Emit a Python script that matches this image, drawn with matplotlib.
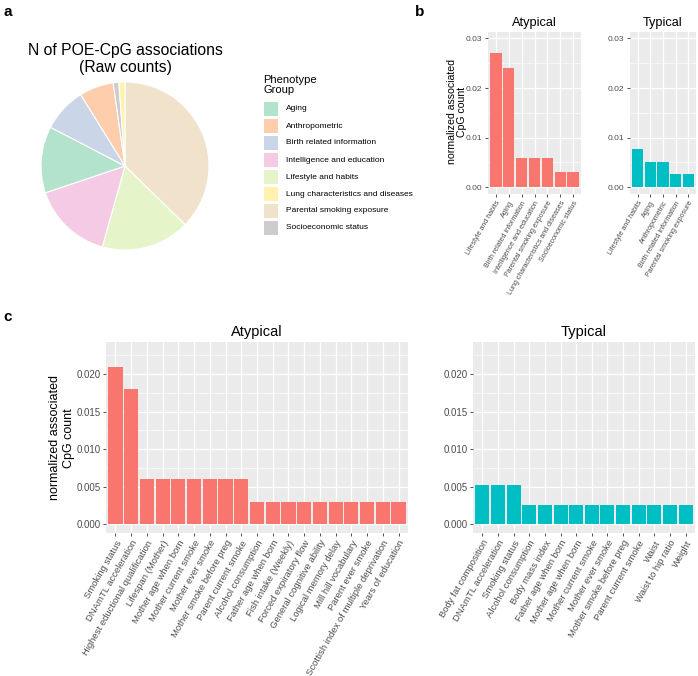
import matplotlib
matplotlib.use("Agg")
import matplotlib.pyplot as plt
import numpy as np

plt.rcParams["font.family"] = ["Liberation Sans", "DejaVu Sans"]

W, H = 698, 676

# panel a: raw counts per phenotype group (clockwise from top)
pie_groups = ["Parental smoking exposure", "Lifestyle and habits",
              "Intelligence and education", "Aging", "Birth related information",
              "Anthropometric", "Socioeconomic status",
              "Lung characteristics and diseases"]
pie_counts = [35, 16, 14.5, 12, 8, 6.2, 1, 1.1]
legend_groups = ["Aging", "Anthropometric", "Birth related information",
                 "Intelligence and education", "Lifestyle and habits",
                 "Lung characteristics and diseases", "Parental smoking exposure",
                 "Socioeconomic status"]
group_colors = {"Aging": "#b3e2cd", "Anthropometric": "#fdcdac",
                "Birth related information": "#cbd5e8",
                "Intelligence and education": "#f4cae4",
                "Lifestyle and habits": "#e6f5c9",
                "Lung characteristics and diseases": "#fff2ae",
                "Parental smoking exposure": "#f1e2cc",
                "Socioeconomic status": "#cccccc"}

# panel b: normalized counts per group
b_aty_labels = ["Lifestyle and habits", "Aging", "Birth related information",
                "Intelligence and education", "Parental smoking exposure",
                "Lung characteristics and diseases", "Socioeconomic status"]
b_aty_values = [0.027, 0.024, 0.006, 0.006, 0.006, 0.003, 0.003]
b_typ_labels = ["Lifestyle and habits", "Aging", "Anthropometric",
                "Birth related information", "Parental smoking exposure"]
b_typ_values = [0.0078, 0.0052, 0.0052, 0.0026, 0.0026]

# panel c: normalized counts per phenotype
c_aty_labels = ["Smoking status", "DNAmTL acceleration",
                "Highest eductional qualification", "Lifespan (Mother)",
                "Mother age when born", "Mother current smoke",
                "Mother ever smoke", "Mother smoke before preg",
                "Parent current smoke", "Alcohol consumption",
                "Father age when born", "Fish intake (Weekly)",
                "Forced expiratory flow", "General cognitive ability",
                "Logical memory delay", "Mill hill vocabulary",
                "Parent ever smoke", "Scottish index of multiple deprivation",
                "Years of education"]
c_aty_values = [0.021, 0.018] + [0.006] * 7 + [0.003] * 10
c_typ_labels = ["Body fat composition", "DNAmTL acceleration", "Smoking status",
                "Alcohol consumption", "Body mass index", "Father age when born",
                "Mother age when born", "Mother current smoke",
                "Mother ever smoke", "Mother smoke before preg",
                "Parent current smoke", "Waist", "Waist to hip ratio", "Weight"]
c_typ_values = [0.0052] * 3 + [0.0026] * 11

RED, CYAN = "#F8766D", "#00BFC4"

fig = plt.figure(figsize=(W / 100, H / 100), dpi=100)


def ax_px(x0, y0, x1, y1):
    return fig.add_axes([x0 / W, 1 - y1 / H, (x1 - x0) / W, (y1 - y0) / H])


def text_px(x, y, s, **kw):
    return fig.text(x / W, 1 - y / H, s, **kw)


def gg_bars(ax, labels, values, color, ylim, yticks, minor, ytick_fs, xtick_fs,
            title, title_fs):
    x = np.arange(len(labels))
    ax.set_facecolor("#ebebeb")
    ax.bar(x, values, width=0.9, color=color, zorder=3)
    ax.set_xlim(-0.6, len(labels) - 0.4)
    ax.set_ylim(*ylim)
    ax.set_yticks(yticks)
    ax.set_yticks(minor, minor=True)
    ax.set_xticks(x)
    ax.set_xticklabels(labels, rotation=60, ha="right", va="top",
                       rotation_mode="anchor", fontsize=xtick_fs, color="#4d4d4d")
    ax.set_yticklabels([f"{v:.3f}" if yticks[1] < 0.01 else f"{v:.2f}"
                        for v in yticks], fontsize=ytick_fs, color="#4d4d4d")
    ax.grid(True, which="major", color="white", lw=0.9, zorder=0)
    ax.grid(True, which="minor", axis="y", color="white", lw=0.45, zorder=0)
    ax.tick_params(which="major", length=2.5, width=0.6, color="#333333", pad=1.5)
    ax.tick_params(which="minor", length=0)
    for s in ax.spines.values():
        s.set_visible(False)
    ax.set_title(title, fontsize=title_fs, pad=4)
    ax.set_axisbelow(True)


# ---- panel a
text_px(4, 12, "a", fontsize=11, fontweight="bold", va="center")
text_px(125, 59, "N of POE-CpG associations\n(Raw counts)",
        fontsize=11.3, ha="center", va="center", linespacing=1.15)
axp = ax_px(41, 82, 209, 250)
axp.pie(pie_counts, colors=[group_colors[g] for g in pie_groups],
        startangle=90, counterclock=False, radius=1,
        wedgeprops=dict(edgecolor="white", linewidth=0.8))
axp.set_xlim(-1.0, 1.0)
axp.set_ylim(-1.0, 1.0)
axp.set_aspect("equal")

text_px(263, 85, "Phenotype\nGroup", fontsize=8, va="center", linespacing=1.1)
for i, g in enumerate(legend_groups):
    yc = 109 + i * 17
    fig.patches.append(plt.Rectangle((264 / W, 1 - (yc + 7) / H), 14 / W, 14 / H,
                                     transform=fig.transFigure,
                                     facecolor=group_colors[g], edgecolor="none"))
    text_px(286, yc, g, fontsize=6, va="center")

# ---- panel b
text_px(415, 12, "b", fontsize=11, fontweight="bold", va="center")
b_ylim = (-0.00135, 0.0313)
ax = ax_px(488, 32, 581, 194)
gg_bars(ax, b_aty_labels, b_aty_values, RED, b_ylim, [0, 0.01, 0.02, 0.03],
        [0.005, 0.015, 0.025], 6, 5.1, "Atypical", 9.2)
text_px(457, 112, "normalized associated\nCpG count", fontsize=7.6,
        rotation=90, ha="center", va="center", linespacing=1.05)
ax = ax_px(630, 32, 696, 194)
gg_bars(ax, b_typ_labels, b_typ_values, CYAN, b_ylim, [0, 0.01, 0.02, 0.03],
        [0.005, 0.015, 0.025], 6, 5.1, "Typical", 9.2)

# ---- panel c
text_px(3, 317, "c", fontsize=11, fontweight="bold", va="center")
c_ylim = (-0.0012, 0.0243)
c_ticks = [0, 0.005, 0.01, 0.015, 0.02]
c_minor = [0.0025, 0.0075, 0.0125, 0.0175, 0.0225]
ax = ax_px(106, 342, 408, 533)
gg_bars(ax, c_aty_labels, c_aty_values, RED, c_ylim, c_ticks, c_minor, 7, 6.8,
        "Atypical", 10.5)
text_px(62, 438, "normalized associated\nCpG count", fontsize=9,
        rotation=90, ha="center", va="center", linespacing=1.2)
ax = ax_px(473, 342, 695, 533)
gg_bars(ax, c_typ_labels, c_typ_values, CYAN, c_ylim, c_ticks, c_minor, 7, 6.8,
        "Typical", 10.5)

fig.savefig("out.png", dpi=100)
